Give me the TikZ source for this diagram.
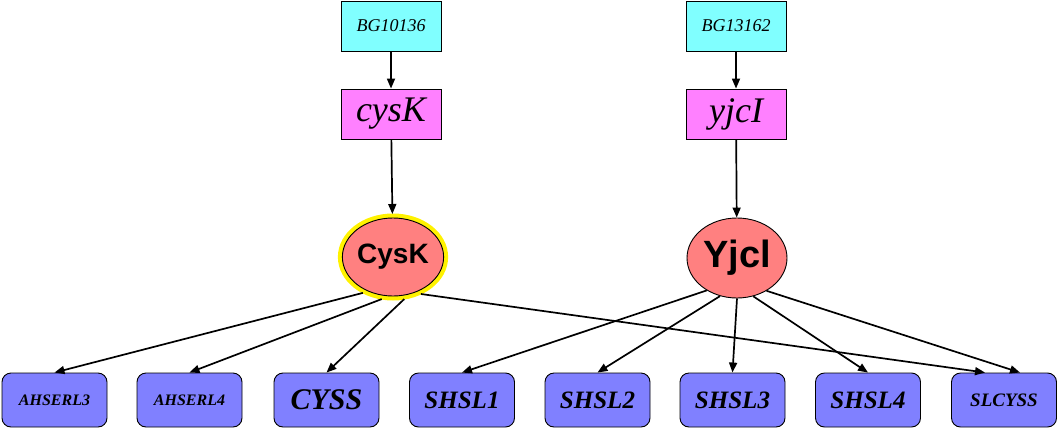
\documentclass[tikz,border=0pt]{standalone}
\usepackage{fontspec}
\setmainfont{Liberation Serif}
\newfontfamily\protfont{Liberation Sans}
\usetikzlibrary{arrows.meta,shapes.geometric}

\definecolor{bgcyan}{HTML}{80FFFF}
\definecolor{genepink}{HTML}{FF80FF}
\definecolor{protred}{HTML}{FF8080}
\definecolor{rxnblue}{HTML}{8080FF}

\begin{document}
\begin{tikzpicture}[x=1pt,y=-1pt,
  bgbox/.style={draw=black,line width=0.9pt,fill=bgcyan,minimum width=100pt,minimum height=50pt,
    inner sep=0pt,font=\fontsize{18}{18}\selectfont\itshape},
  genebox/.style={draw=black,line width=0.9pt,fill=genepink,minimum width=100pt,minimum height=50pt,
    inner sep=0pt,font=\fontsize{36}{36}\selectfont\itshape},
  protein/.style={ellipse,draw=black,line width=0.9pt,fill=protred,inner sep=0pt,
    font=\protfont\bfseries},
  halo/.style={preaction={draw=yellow,line width=9pt},outer sep=4pt},
  rxnbox/.style={draw=black,line width=0.9pt,fill=rxnblue,rounded corners=9pt,
    minimum width=105pt,minimum height=54pt,inner sep=0pt},
  link/.style={draw=black,line width=1.7pt,-{Triangle[length=10pt,width=8pt]}}]

\useasboundingbox (0,0) rectangle (1061,429);

% genes and gene products:
\node[bgbox] (bg10136) at (391,26) {BG10136};
\node[genebox] (cysKgene) at (391,114) {cysK};
\node[protein,halo,minimum width=101pt,minimum height=78pt,font=\protfont\bfseries\fontsize{28}{28}\selectfont] (CysK) at (393,257) {CysK};

\node[bgbox] (bg13162) at (736,26) {BG13162};
\node[genebox] (yjcIgene) at (736,114) {yjcI};
\node[protein,minimum width=100pt,minimum height=80pt,font=\protfont\bfseries\fontsize{38}{38}\selectfont] (Yjcl) at (737,258) {Yjcl};

% reactions:
\node[rxnbox,font=\fontsize{16}{16}\selectfont\bfseries\itshape] (ahserl3) at (54.5,400) {AHSERL3};
\node[rxnbox,font=\fontsize{16}{16}\selectfont\bfseries\itshape] (ahserl4) at (189.5,400) {AHSERL4};
\node[rxnbox,font=\fontsize{30}{30}\selectfont\bfseries\itshape] (cyss) at (326.5,400) {CYSS};
\node[rxnbox,font=\fontsize{25}{25}\selectfont\bfseries\itshape] (shsl1) at (462,400) {SHSL1};
\node[rxnbox,font=\fontsize{25}{25}\selectfont\bfseries\itshape] (shsl2) at (597.5,400) {SHSL2};
\node[rxnbox,font=\fontsize{25}{25}\selectfont\bfseries\itshape] (shsl3) at (732.5,400) {SHSL3};
\node[rxnbox,font=\fontsize{25}{25}\selectfont\bfseries\itshape] (shsl4) at (868,400) {SHSL4};
\node[rxnbox,font=\fontsize{19}{19}\selectfont\bfseries\itshape] (slcyss) at (1004,400) {SLCYSS};

% edges:
\draw[link] (bg10136) -- (cysKgene);
\draw[link] (cysKgene) -- (CysK);
\draw[link] (bg13162) -- (yjcIgene);
\draw[link] (yjcIgene) -- (Yjcl);

\draw[link] (CysK.230) -- (ahserl3.north);
\draw[link] (CysK.255) -- (ahserl4.north);
\draw[link] (CysK.285) -- (cyss.north);
\draw[link] (CysK.307) -- ([xshift=-19pt]slcyss.north);

\draw[link] (Yjcl.227) -- (shsl1.north);
\draw[link] (Yjcl.246) -- (shsl2.north);
\draw[link] (Yjcl.270) -- (shsl3.north);
\draw[link] (Yjcl.293) -- (shsl4.north);
\draw[link] (Yjcl.312) -- ([xshift=16pt]slcyss.north);

\end{tikzpicture}
\end{document}
